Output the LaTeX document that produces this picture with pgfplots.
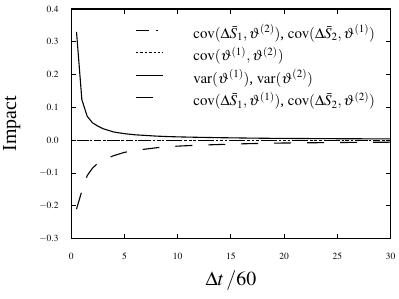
\documentclass[border=0pt]{standalone}
\usepackage{mathptmx}
\usepackage[no-math]{fontspec}
\setmainfont{Liberation Serif}
\usepackage{pgfplots}
\pgfplotsset{compat=1.18}
\begin{document}
\begin{tikzpicture}
\begin{axis}[
  name=ax,
  scale only axis,
  width=320bp, height=230bp,
  xmin=0, xmax=30, ymin=-0.3, ymax=0.4,
  xtick={0,5,10,15,20,25,30},
  ytick={-0.3,-0.2,-0.1,0,0.1,0.2,0.3,0.4},
  yticklabel style={/pgf/number format/.cd, fixed, fixed zerofill, precision=1},
  tick align=inside,
  tick pos=both,
  major tick length=5bp,
  axis line style={line width=1.2bp},
  every tick/.style={line width=1bp, black},
  tick label style={font=\fontsize{9.5}{11}\selectfont},
  yticklabel shift=9bp,
  xticklabel shift=11bp,
  xlabel={$\Delta t\,/60$},
  ylabel={Impact},
  label style={font=\fontsize{20}{24}\selectfont},
  xlabel style={yshift=-4bp},
  ylabel style={yshift=12bp},
  legend cell align=left,
  legend style={draw=none, fill=none, at={(0.199,0.925)}, anchor=north west,
    inner sep=0pt, font=\fontsize{15}{18}\selectfont, row sep=6.5bp,
    nodes={inner sep=0pt, text height=12bp, text depth=4bp}},
  legend image code/.code={\draw[#1] (0bp,4bp) -- (28bp,4bp); \path[draw=none] (0bp,4bp) -- (58bp,4bp);},
  every axis plot/.append style={line width=1.1bp, black},
]
\addplot[dash pattern=on 13bp off 8bp on 2bp off 8bp] coordinates {
(0.5,-0.0015) (2,-0.0015) (5,-0.0015) (10,-0.0015) (15,-0.0015) (20,-0.0015) (25,-0.0015) (30,-0.0015)};
\addlegendentry{$\mathrm{cov}(\Delta\bar{S}_1,\vartheta^{(2)})$, $\mathrm{cov}(\Delta\bar{S}_2,\vartheta^{(1)})$}
\addplot[dash pattern=on 2.5bp off 2bp] coordinates {
(0.5,0) (5,0) (10,0) (15,0) (20,0) (25,0) (30,0)};
\addlegendentry{$\mathrm{cov}(\vartheta^{(1)},\vartheta^{(2)})$}
\addplot[solid] coordinates {
(0.5,0.33) (1,0.124) (1.5,0.073) (2,0.053) (2.5,0.043) (3,0.035) (4,0.025) (5,0.020) (6,0.0165) (7,0.0145) (8,0.0125) (9,0.0112) (10,0.0102) (12,0.0088) (14,0.0077) (16,0.0068) (18,0.006) (20,0.0055) (25,0.0046) (30,0.004)};
\addlegendentry{$\mathrm{var}(\vartheta^{(1)})$, $\mathrm{var}(\vartheta^{(2)})$}
\addplot[dash pattern=on 17bp off 16bp] coordinates {
(0.5,-0.21) (1,-0.155) (1.5,-0.108) (2,-0.085) (2.5,-0.07) (3,-0.06) (4,-0.047) (5,-0.037) (6,-0.031) (7,-0.027) (8,-0.023) (9,-0.02) (10,-0.018) (12,-0.015) (14,-0.013) (16,-0.011) (18,-0.0095) (20,-0.0085) (25,-0.007) (30,-0.006)};
\addlegendentry{$\mathrm{cov}(\Delta\bar{S}_1,\vartheta^{(1)})$, $\mathrm{cov}(\Delta\bar{S}_2,\vartheta^{(2)})$}
\end{axis}
\pgfresetboundingbox
\path ([xshift=-71.3bp,yshift=-60bp]ax.south west) rectangle ([xshift=8.3bp,yshift=9bp]ax.north east);
\end{tikzpicture}
\end{document}
